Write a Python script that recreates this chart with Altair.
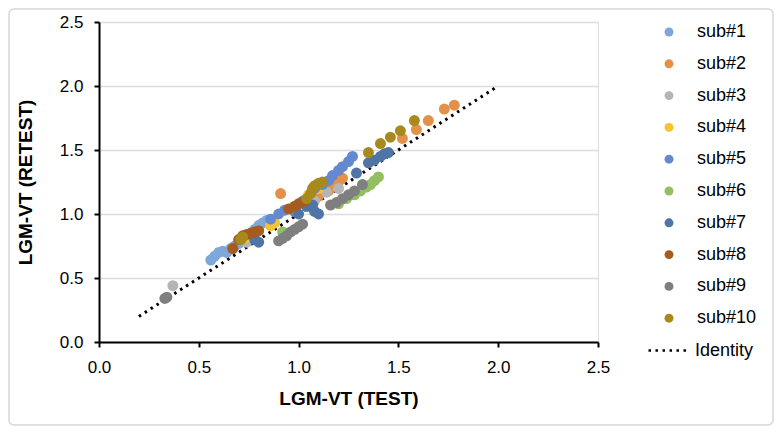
import altair as alt
import pandas as pd

names = ["sub#1", "sub#2", "sub#3", "sub#4", "sub#5",
         "sub#6", "sub#7", "sub#8", "sub#9", "sub#10"]
colors = ["#7FA8DA", "#E3904B", "#B5B5B5", "#F4C42E", "#6589D1",
          "#92C060", "#4F74A6", "#A65B21", "#7F7F7F", "#A8891E"]

sub1_x = [0.56, 0.58, 0.60, 0.62, 0.64, 0.66, 0.68, 0.70, 0.76, 0.78, 0.80, 0.82, 0.84]
sub1_y = [0.64, 0.67, 0.70, 0.71, 0.70, 0.73, 0.75, 0.77, 0.85, 0.88, 0.91, 0.93, 0.95]
sub2_x = [0.91, 1.05, 1.10, 1.15, 1.18, 1.20, 1.22, 1.52, 1.59, 1.65, 1.73, 1.78]
sub2_y = [1.16, 1.10, 1.14, 1.18, 1.22, 1.25, 1.28, 1.59, 1.66, 1.73, 1.82, 1.85]
sub3_x = [0.37, 0.74, 0.78, 0.98, 1.04, 1.08, 1.14, 1.20]
sub3_y = [0.44, 0.78, 0.82, 1.02, 1.06, 1.10, 1.17, 1.20]
sub4_x = [0.74, 0.80, 0.86, 0.88, 1.05, 1.10]
sub4_y = [0.82, 0.87, 0.91, 0.93, 1.15, 1.20]
sub5_x = [0.78, 0.86, 0.90, 0.93, 0.98, 1.02, 1.08, 1.12, 1.15, 1.17, 1.20, 1.22, 1.25, 1.27]
sub5_y = [0.86, 0.96, 1.00, 1.03, 1.02, 1.10, 1.20, 1.23, 1.26, 1.30, 1.34, 1.37, 1.41, 1.45]
sub6_x = [0.92, 1.20, 1.24, 1.28, 1.31, 1.34, 1.36, 1.38, 1.40]
sub6_y = [0.86, 1.08, 1.12, 1.15, 1.18, 1.21, 1.23, 1.26, 1.29]
sub7_x = [0.78, 0.80, 1.00, 1.04, 1.07, 1.08, 1.10, 1.29, 1.35, 1.38, 1.41, 1.43, 1.45]
sub7_y = [0.80, 0.78, 1.00, 1.06, 1.07, 1.02, 1.00, 1.32, 1.40, 1.42, 1.45, 1.47, 1.48]
sub8_x = [0.67, 0.70, 0.72, 0.74, 0.76, 0.78, 0.80, 0.95, 0.98, 1.00, 1.03]
sub8_y = [0.73, 0.80, 0.83, 0.84, 0.85, 0.86, 0.87, 1.04, 1.06, 1.08, 1.10]
sub9_x = [0.33, 0.34, 0.90, 0.92, 0.94, 0.96, 0.98, 1.00, 1.02, 1.16, 1.19, 1.22, 1.25, 1.28, 1.32]
sub9_y = [0.34, 0.35, 0.79, 0.81, 0.83, 0.86, 0.88, 0.90, 0.92, 1.07, 1.09, 1.12, 1.15, 1.18, 1.23]
sub10_x = [0.71, 0.72, 1.04, 1.06, 1.07, 1.08, 1.10, 1.12, 1.35, 1.41, 1.46, 1.51, 1.58]
sub10_y = [0.80, 0.82, 1.12, 1.16, 1.20, 1.22, 1.24, 1.25, 1.48, 1.55, 1.60, 1.65, 1.73]

all_x = [sub1_x, sub2_x, sub3_x, sub4_x, sub5_x, sub6_x, sub7_x, sub8_x, sub9_x, sub10_x]
all_y = [sub1_y, sub2_y, sub3_y, sub4_y, sub5_y, sub6_y, sub7_y, sub8_y, sub9_y, sub10_y]

identity_x = [0.2, 2.0]
identity_y = [0.2, 2.0]
tick_values = [0.0, 0.5, 1.0, 1.5, 2.0, 2.5]

rows = []
order = 0
for name, xs, ys in zip(names, all_x, all_y):
    for xv, yv in zip(xs, ys):
        rows.append({"test": xv, "retest": yv, "subject": name, "order": order})
        order += 1
points_df = pd.DataFrame(rows)
line_df = pd.DataFrame({"test": identity_x, "retest": identity_y,
                        "series": ["Identity"] * len(identity_x)})

FONT = "Liberation Sans"
x_scale = alt.Scale(domain=[0, 2.5], nice=False)
y_scale = alt.Scale(domain=[0, 2.5], nice=False)

x_axis = alt.Axis(title="LGM-VT (TEST)", values=tick_values, format=".1f", grid=False,
                  labelFlush=False,
                  domainColor="black", domainWidth=2, tickColor="black", tickWidth=2,
                  tickSize=5, labelPadding=12, labelFontSize=17, labelColor="black",
                  labelFont=FONT, titleFont=FONT, titleFontSize=19, titleFontWeight="bold",
                  titleColor="black", titleY=56, titleBaseline="middle")
y_axis = alt.Axis(title="LGM-VT (RETEST)", values=tick_values, format=".1f", grid=True,
                  labelFlush=False,
                  gridColor="#DCDCDC", gridWidth=1.5,
                  domainColor="black", domainWidth=2, tickColor="black", tickWidth=2,
                  tickSize=5, labelPadding=11, labelFontSize=17, labelColor="black",
                  labelFont=FONT, titleFont=FONT, titleFontSize=19, titleFontWeight="bold",
                  titleColor="black", titleX=-74, titleY=160, titleAngle=-90,
                  titleAlign="center", titleBaseline="middle")

frame = alt.Chart(pd.DataFrame({"k": [0]})).mark_rect(
    filled=False, stroke="#D6D6D6", strokeWidth=1.5, cornerRadius=5, clip=False
).encode(x=alt.value(-90), x2=alt.value(674), y=alt.value(-13), y2=alt.value(403))

line = alt.Chart(line_df).mark_line(color="black", strokeWidth=3).encode(
    x=alt.X("test:Q", scale=x_scale, axis=x_axis),
    y=alt.Y("retest:Q", scale=y_scale, axis=y_axis),
    strokeDash=alt.StrokeDash(
        "series:N",
        scale=alt.Scale(domain=["Identity"], range=[[2.5, 4.5]]),
        legend=alt.Legend(title=None, orient="none", legendX=548, legendY=306,
                          symbolType="stroke", symbolSize=1764, symbolStrokeWidth=2.5,
                          symbolStrokeColor="black", labelFontSize=18, labelFont=FONT,
                          labelColor="black", labelOffset=3, padding=0),
    ),
)

points = alt.Chart(points_df).mark_circle(size=120, opacity=1).encode(
    x=alt.X("test:Q", scale=x_scale, axis=x_axis),
    y=alt.Y("retest:Q", scale=y_scale, axis=y_axis),
    color=alt.Color("subject:N", scale=alt.Scale(domain=names, range=colors),
                    legend=alt.Legend(title=None, orient="none", legendX=561, legendY=1,
                                      symbolType="circle", symbolSize=80,
                                      labelFontSize=18, labelFont=FONT, labelColor="black",
                                      rowPadding=13.8, labelOffset=19, padding=0,
                                      symbolStrokeWidth=0, symbolOpacity=1)),
    order=alt.Order("order:Q"),
)

chart = alt.layer(frame, line, points).properties(
    width=499, height=320,
    autosize=alt.AutoSizeParams(type="none"),
    padding={"left": 91, "top": 14, "right": 176, "bottom": 84},
).configure_view(stroke=None).configure(background="white")

chart.save("out.html", embed_options={"renderer": "svg", "actions": False})
